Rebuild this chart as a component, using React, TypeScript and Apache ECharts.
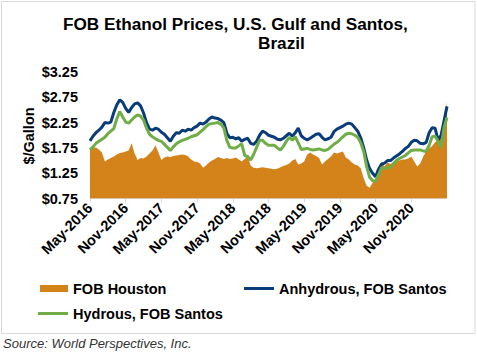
import React, { useEffect, useRef } from "react";
import * as echarts from "echarts";

// Semi-monthly observations, May-2016 .. May-2021
const categories: string[] = Array.from({ length: 121 }, (_, i) => {
  const m = 4 + Math.floor(i / 2);
  const y = 2016 + Math.floor(m / 12);
  const mm = (m % 12) + 1;
  return `${y}-${String(mm).padStart(2, "0")}-${i % 2 === 0 ? "01" : "16"}`;
});

const xTickLabels = [
  "May-2016", "Nov-2016", "May-2017", "Nov-2017", "May-2018",
  "Nov-2018", "May-2019", "Nov-2019", "May-2020", "Nov-2020",
];

const yTickValues = [0.75, 1.25, 1.75, 2.25, 2.75, 3.25];
const yTickLabels = ["$0.75", "$1.25", "$1.75", "$2.25", "$2.75", "$3.25"];

const fobHouston = [
  1.74, 1.76, 1.76, 1.72, 1.66, 1.48, 1.52, 1.55, 1.58, 1.62,
  1.65, 1.66, 1.68, 1.70, 1.84, 1.64, 1.51, 1.55, 1.54, 1.58,
  1.64, 1.70, 1.80, 1.66, 1.51, 1.56, 1.58, 1.57, 1.59, 1.60,
  1.61, 1.62, 1.61, 1.58, 1.52, 1.48, 1.47, 1.44, 1.36, 1.40,
  1.46, 1.50, 1.53, 1.57, 1.55, 1.53, 1.55, 1.53, 1.54, 1.56,
  1.52, 1.48, 1.53, 1.58, 1.40, 1.36, 1.35, 1.36, 1.37, 1.36,
  1.35, 1.34, 1.33, 1.34, 1.37, 1.39, 1.41, 1.44, 1.50, 1.53,
  1.42, 1.44, 1.48, 1.62, 1.66, 1.62, 1.59, 1.55, 1.42, 1.48,
  1.53, 1.58, 1.66, 1.64, 1.66, 1.68, 1.56, 1.52, 1.46, 1.42,
  1.40, 1.35, 1.15, 1.00, 0.96, 1.06, 1.12, 1.28, 1.48, 1.38,
  1.46, 1.43, 1.45, 1.48, 1.50, 1.52, 1.52, 1.54, 1.58, 1.48,
  1.38, 1.44, 1.58, 1.68, 1.74, 1.79, 1.86, 1.90, 1.96, 2.25,
  2.65,
];

const anhydrousSantos = [
  1.89, 1.98, 2.05, 2.10, 2.16, 2.25, 2.24, 2.26, 2.45, 2.60,
  2.70, 2.65, 2.53, 2.45, 2.55, 2.62, 2.64, 2.58, 2.44, 2.25,
  2.12, 2.10, 2.14, 2.12, 2.06, 2.02, 1.95, 1.88, 1.98, 2.05,
  2.04, 2.10, 2.08, 2.12, 2.10, 2.15, 2.18, 2.24, 2.22, 2.26,
  2.32, 2.36, 2.34, 2.33, 2.30, 2.25, 2.04, 1.95, 1.96, 1.93,
  1.95, 1.88, 1.92, 1.94, 1.84, 1.82, 1.88, 2.00, 2.08, 2.05,
  2.00, 1.98, 1.96, 1.92, 1.91, 1.94, 1.99, 2.04, 1.98, 2.05,
  2.14, 1.99, 1.94, 1.91, 1.94, 1.98, 2.02, 2.03, 1.96, 1.91,
  1.93, 1.96, 2.07, 2.12, 2.15, 2.18, 2.22, 2.24, 2.22, 2.15,
  2.08, 1.95, 1.75, 1.51, 1.34, 1.25, 1.18, 1.33, 1.43, 1.45,
  1.50, 1.50, 1.55, 1.59, 1.63, 1.68, 1.74, 1.78, 1.86, 1.90,
  1.89, 1.84, 1.83, 1.86, 2.05, 2.15, 2.14, 1.90, 2.00, 2.28,
  2.57,
];

const hydrousSantos = [
  1.71, 1.77, 1.84, 1.88, 1.92, 1.96, 2.03, 2.08, 2.13, 2.32,
  2.47, 2.36, 2.26, 2.24, 2.30, 2.36, 2.40, 2.38, 2.30, 2.14,
  2.02, 1.97, 1.93, 1.90, 1.88, 1.82, 1.76, 1.70, 1.77, 1.83,
  1.87, 1.90, 1.92, 1.94, 1.97, 1.99, 2.01, 2.06, 2.11, 2.17,
  2.22, 2.23, 2.24, 2.25, 2.22, 2.14, 1.90, 1.76, 1.75, 1.75,
  1.79, 1.83, 1.60, 1.58, 1.51, 1.62, 1.76, 1.90, 1.90, 1.84,
  1.80, 1.80, 1.80, 1.75, 1.71, 1.78, 1.88, 1.96, 1.90, 1.97,
  1.85, 1.72, 1.73, 1.74, 1.72, 1.71, 1.72, 1.73, 1.71, 1.70,
  1.72, 1.77, 1.82, 1.86, 1.91, 1.97, 2.02, 2.04, 2.03, 2.00,
  1.96, 1.85, 1.68, 1.38, 1.17, 1.10, 1.09, 1.22, 1.36, 1.35,
  1.35, 1.37, 1.44, 1.50, 1.54, 1.57, 1.60, 1.65, 1.70, 1.71,
  1.71, 1.71, 1.69, 1.68, 1.80, 1.97, 1.98, 1.88, 1.76, 2.15,
  2.35,
];

const ORANGE = "#D3831A";
const BLUE = "#0A3C7A";
const GREEN = "#70AD47";
const FONT = "'Liberation Sans', Arial, sans-serif";

export default function App() {
  const ref = useRef<HTMLDivElement>(null);

  useEffect(() => {
    if (!ref.current) return;
    const chart = echarts.init(ref.current, undefined, { renderer: "svg" });
    const showTick = (index: number) => index % 12 === 0 && index < 120;
    const bold = { fontFamily: FONT, fontWeight: "bold" as const, fontSize: 14.5, color: "#000" };
    const titleStyle = {
      fontFamily: FONT,
      fontWeight: "bold" as const,
      fontSize: 17.2,
      lineHeight: 17,
      fill: "#000",
      align: "left" as const,
      verticalAlign: "middle" as const,
    };

    chart.setOption({
      animation: false,
      backgroundColor: "#fff",
      textStyle: { fontFamily: FONT },
      graphic: [
        {
          type: "rect",
          shape: { x: 1.5, y: 1.5, width: 473.5, height: 332 },
          style: { fill: "none", stroke: "#d9d9d9", lineWidth: 1 },
          silent: true,
        },
        {
          type: "text",
          x: 63,
          y: 23.8,
          style: { text: "FOB Ethanol Prices, U.S. Gulf and Santos,", ...titleStyle },
        },
        {
          type: "text",
          x: 258,
          y: 43.4,
          style: { text: "Brazil", ...titleStyle },
        },
        {
          type: "text",
          x: 29,
          y: 136,
          rotation: Math.PI / 2,
          style: {
            text: "$/Gallon",
            fontFamily: FONT,
            fontWeight: "bold",
            fontSize: 14.5,
            fill: "#000",
            align: "center",
            verticalAlign: "middle",
          },
        },
        {
          type: "text",
          x: 3,
          y: 343,
          style: {
            text: "Source: World Perspectives, Inc.",
            fontFamily: FONT,
            fontStyle: "italic",
            fontSize: 13,
            fill: "#333",
            align: "left",
            verticalAlign: "middle",
          },
        },
      ],
      legend: [
        {
          data: [{ name: "FOB Houston", icon: "rect" }],
          left: 35,
          top: 276,
          itemWidth: 28,
          itemHeight: 7,
          textStyle: bold,
          selectedMode: false,
        },
        {
          data: [{ name: "Anhydrous, FOB Santos", icon: "rect" }],
          left: 239,
          top: 276,
          itemWidth: 30,
          itemHeight: 3,
          textStyle: bold,
          selectedMode: false,
        },
        {
          data: [{ name: "Hydrous, FOB Santos", icon: "rect" }],
          left: 33,
          top: 301,
          itemWidth: 30,
          itemHeight: 3,
          textStyle: bold,
          selectedMode: false,
        },
      ],
      grid: { left: 90, right: 30, top: 72, bottom: 153.5, containLabel: false },
      xAxis: {
        type: "category",
        data: categories,
        boundaryGap: false,
        axisLine: { show: true, lineStyle: { color: "#d9d9d9", width: 1 } },
        axisTick: { show: true, interval: showTick, length: 4, lineStyle: { color: "#d9d9d9" } },
        axisLabel: {
          interval: showTick,
          rotate: 45,
          margin: 7,
          ...bold,
          formatter: (value: string) => {
            const idx = categories.indexOf(value);
            return idx % 12 === 0 ? xTickLabels[idx / 12] ?? "" : "";
          },
        },
        splitLine: { show: false },
      },
      yAxis: {
        type: "value",
        min: 0.75,
        max: 3.25,
        interval: 0.25,
        axisLine: { show: false },
        axisTick: { show: false },
        splitLine: { show: false },
        axisLabel: {
          margin: 12,
          ...bold,
          formatter: (v: number) => {
            const k = yTickValues.findIndex((t) => Math.abs(t - v) < 1e-6);
            return k >= 0 ? yTickLabels[k] : "";
          },
        },
      },
      series: [
        {
          name: "FOB Houston",
          type: "line",
          data: fobHouston,
          symbol: "none",
          lineStyle: { width: 0, color: ORANGE },
          itemStyle: { color: ORANGE },
          areaStyle: { color: ORANGE, opacity: 1 },
          z: 1,
        },
        {
          name: "Anhydrous, FOB Santos",
          type: "line",
          data: anhydrousSantos,
          symbol: "none",
          lineStyle: { width: 3, color: BLUE },
          itemStyle: { color: BLUE },
          z: 2,
        },
        {
          name: "Hydrous, FOB Santos",
          type: "line",
          data: hydrousSantos,
          symbol: "none",
          lineStyle: { width: 3, color: GREEN },
          itemStyle: { color: GREEN },
          z: 3,
        },
      ],
    });

    return () => chart.dispose();
  }, []);

  return (
    <div
      ref={ref}
      style={{ position: "absolute", left: 0, top: 0, width: 477, height: 352 }}
    />
  );
}
